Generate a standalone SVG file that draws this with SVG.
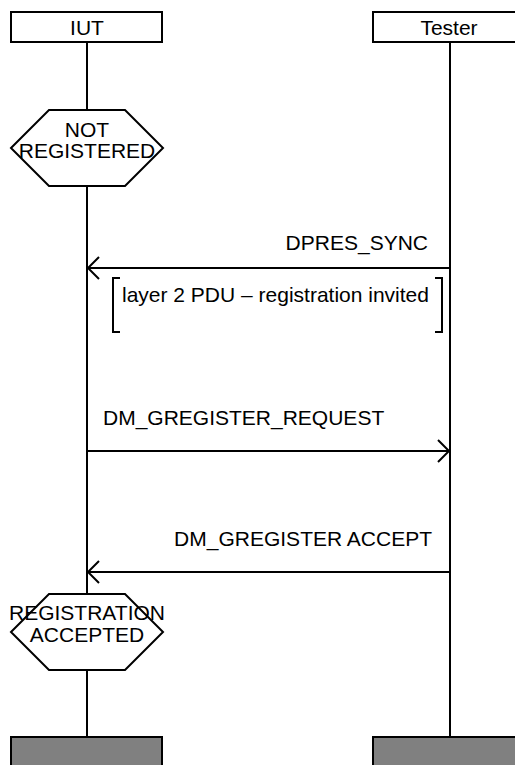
<svg xmlns="http://www.w3.org/2000/svg" width="515" height="765" viewBox="0 0 515 765">
<style>
text{font-family:"Liberation Sans",Arial,sans-serif;font-size:21px;fill:#000}
.c{text-anchor:middle}
.box{fill:#fff;stroke:#000;stroke-width:2}
.end{fill:#808080;stroke:#000;stroke-width:2}
.life{stroke:#000;stroke-width:2;fill:none}
.msg{stroke:#000;stroke-width:2;fill:none}
.hex{fill:#fff;stroke:#000;stroke-width:2}
</style>
<defs>
<marker id="ah" markerWidth="14" markerHeight="24" refX="12" refY="12" orient="auto" markerUnits="userSpaceOnUse">
<path d="M1,1 L12,12 L1,23" fill="none" stroke="#000" stroke-width="2"/>
</marker>
</defs>
<g id="lifelines">
<line class="life" x1="87" y1="42" x2="87" y2="737"/>
<line class="life" x1="450" y1="42" x2="450" y2="737"/>
</g>
<g id="iut">
<rect class="box" x="11" y="12" width="151" height="30"/>
<text class="c" x="87" y="35">IUT</text>
</g>
<g id="tester">
<rect class="box" x="373" y="12" width="151" height="30"/>
<text class="c" x="449" y="35">Tester</text>
</g>
<g id="not-registered">
<polygon class="hex" points="11,148 49,110 125,110 163,148 125,186 49,186"/>
<text class="c" x="87" y="137">NOT</text>
<text class="c" x="87" y="158">REGISTERED</text>
</g>
<g id="connectors">
<line class="msg" x1="450" y1="268" x2="88" y2="268" marker-end="url(#ah)"/>
<line class="msg" x1="87" y1="451" x2="449" y2="451" marker-end="url(#ah)"/>
<line class="msg" x1="450" y1="572" x2="88" y2="572" marker-end="url(#ah)"/>
</g>
<g id="labels">
<text x="428" y="250" text-anchor="end">DPRES_SYNC</text>
<text x="103" y="425">DM_GREGISTER_REQUEST</text>
<text x="432" y="546" text-anchor="end">DM_GREGISTER ACCEPT</text>
</g>
<g id="comment">
<path d="M120,278 H113 V332 H120" fill="none" stroke="#000" stroke-width="2"/>
<path d="M435,278 H442 V332 H435" fill="none" stroke="#000" stroke-width="2"/>
<text x="122" y="302">layer 2 PDU – registration invited</text>
</g>
<g id="registration-accepted">
<polygon class="hex" points="11,632 49,594 125,594 163,632 125,670 49,670"/>
<text class="c" x="87" y="620">REGISTRATION</text>
<text class="c" x="87" y="642">ACCEPTED</text>
</g>
<g id="iut-end">
<rect class="end" x="11" y="737" width="151" height="40"/>
</g>
<g id="tester-end">
<rect class="end" x="373" y="737" width="151" height="40"/>
</g>
</svg>
